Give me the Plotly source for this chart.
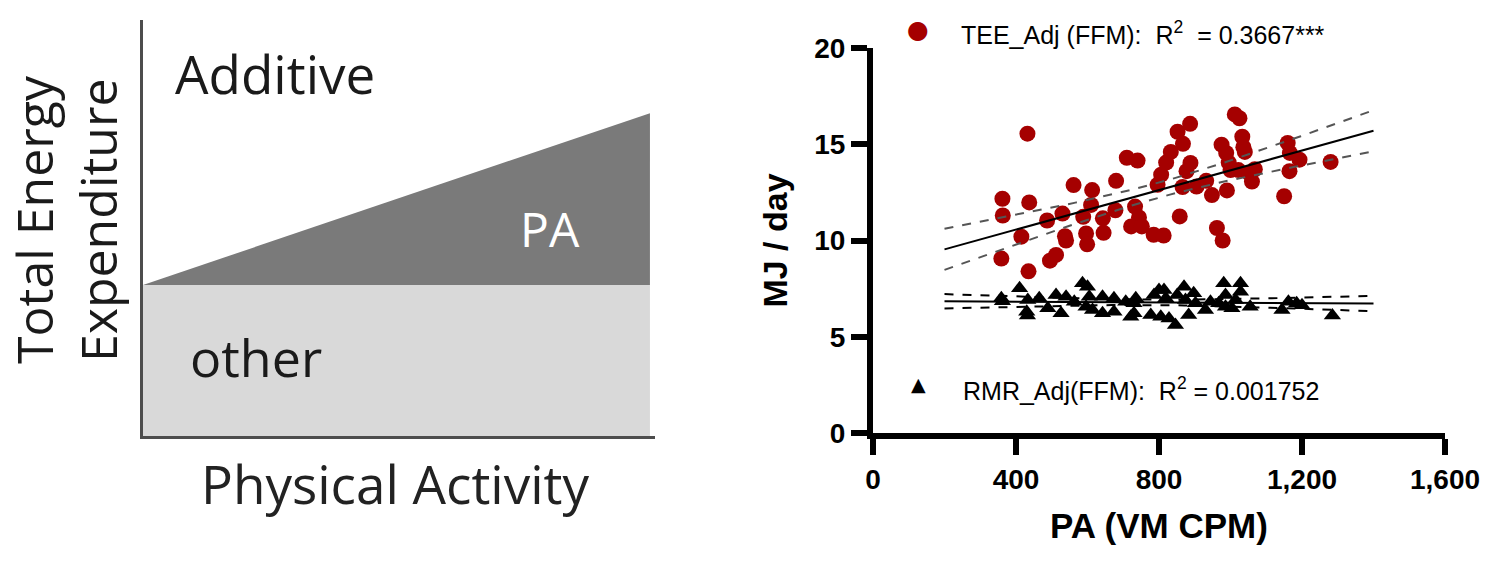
import numpy as np
import plotly.graph_objects as go

W, H = 1490, 584

# left schematic: PA on x, energy (fraction of axis height)
schematic_pa = [0, 1]
other_level = [0.363, 0.363]
total_level = [0.363, 0.776]

# right panel
tee_pa = [359, 363, 362, 437, 432, 415, 435, 487, 495, 512,
          530, 537, 540, 561, 588, 596, 599, 613, 610, 643,
          645, 678, 680, 710, 740, 733, 744, 722, 752, 785,
          813, 796, 806, 820, 833, 852, 867, 887, 858, 866,
          877, 888, 905, 932, 948, 962, 978, 990, 975, 988,
          995, 1000, 1012, 1025, 1033, 1036, 1040, 1022, 1052, 1060,
          1068, 1150, 1160, 1166, 1165, 1193, 1280]
tee_mj = [9.06, 11.3, 12.17, 11.98, 15.55, 10.2, 8.4, 11.04, 8.95, 9.25,
          11.4, 10.22, 10.0, 12.88, 11.23, 10.37, 9.8, 12.62, 11.85, 11.15,
          10.4, 11.57, 13.1, 14.3, 14.15, 11.76, 11.2, 10.73, 10.73, 10.3,
          10.26, 12.89, 13.42, 14.05, 14.6, 15.65, 15.02, 16.06, 11.25, 12.78,
          13.6, 14.03, 12.8, 13.1, 12.36, 10.65, 10.0, 12.6, 14.98, 14.55,
          14.05, 13.66, 16.55, 16.35, 15.39, 14.85, 14.6, 13.66, 13.5, 13.06,
          13.7, 12.3, 15.07, 14.55, 13.6, 14.2, 14.08]

rmr_pa = [359, 362, 410, 433, 430, 432, 465, 489, 512, 526,
          540, 563, 586, 600, 605, 596, 614, 642, 642, 674,
          674, 707, 721, 730, 735, 730, 786, 800, 814, 819,
          777, 805, 828, 846, 870, 851, 874, 897, 883, 902,
          930, 944, 981, 986, 967, 986, 1028, 1028, 1014, 1004,
          1055, 1162, 1185, 1144, 1200, 1285]
rmr_mj = [7.0, 6.85, 7.52, 6.91, 6.3, 6.1, 7.0, 6.48, 7.17, 6.22,
          7.08, 6.82, 7.78, 7.6, 7.08, 6.56, 6.39, 7.08, 6.22, 7.0,
          6.3, 6.82, 6.04, 6.74, 7.0, 6.22, 7.17, 7.43, 7.43, 7.0,
          6.13, 6.04, 5.95, 5.61, 7.6, 7.17, 6.91, 7.26, 6.13, 6.74,
          6.39, 6.82, 7.78, 7.17, 6.74, 6.56, 7.78, 7.34, 6.91, 6.48,
          6.56, 6.82, 6.74, 6.39, 6.64, 6.1]

x_ticks = [0, 400, 800, 1200, 1600]
y_ticks = [0, 5, 10, 15, 20]
fit_span = [200, 1400]
t_crit = 1.99

RED = "#a50000"
BOLD = dict(family="Liberation Sans, Arial", color="black", weight="bold")
CAL = "Open Sans, Noto Sans"


def fx(p):
    return p / W


def fy(p):
    return 1 - p / H


def fit_with_band(x, y):
    # straight line fit plus 95% confidence band of the mean
    x = np.asarray(x, float)
    y = np.asarray(y, float)
    b, a = np.polyfit(x, y, 1)
    res = y - (a + b * x)
    n = len(x)
    s = np.sqrt((res ** 2).sum() / (n - 2))
    sxx = ((x - x.mean()) ** 2).sum()
    xs = np.linspace(fit_span[0], fit_span[1], 60)
    yh = a + b * xs
    half = t_crit * s * np.sqrt(1 / n + (xs - x.mean()) ** 2 / sxx)
    return xs, yh, yh - half, yh + half


fig = go.Figure()

# ---- left schematic
fig.add_trace(go.Scatter(x=schematic_pa, y=other_level, mode="lines", fill="tozeroy",
                         fillcolor="#d9d9d9", line=dict(width=0), xaxis="x2", yaxis="y2",
                         hoverinfo="skip"))
fig.add_trace(go.Scatter(x=schematic_pa, y=total_level, mode="lines", fill="tonexty",
                         fillcolor="#7a7a7a", line=dict(width=0), xaxis="x2", yaxis="y2",
                         hoverinfo="skip"))

# ---- right scatter
fig.add_trace(go.Scatter(x=tee_pa, y=tee_mj, mode="markers",
                         marker=dict(symbol="circle", size=16, color=RED), cliponaxis=False))
fig.add_trace(go.Scatter(x=rmr_pa, y=rmr_mj, mode="markers",
                         marker=dict(symbol="triangle-up", size=15, color="black"), cliponaxis=False))

for xs_, ys_, band_col in [(tee_pa, tee_mj, "#555555"), (rmr_pa, rmr_mj, "black")]:
    xs, yh, lo, hi = fit_with_band(xs_, ys_)
    fig.add_trace(go.Scatter(x=xs, y=yh, mode="lines", line=dict(color="black", width=2)))
    for band in (lo, hi):
        fig.add_trace(go.Scatter(x=xs, y=band, mode="lines",
                                 line=dict(color=band_col, width=2, dash="dash")))

axis_common = dict(showgrid=False, zeroline=False, showline=True, linecolor="black",
                   linewidth=6, ticks="outside", ticklen=16, tickwidth=6, tickcolor="black",
                   tickfont=dict(size=28, **BOLD), automargin=False)

fig.update_layout(
    width=W, height=H,
    margin=dict(l=0, r=0, t=0, b=0),
    paper_bgcolor="white", plot_bgcolor="white",
    showlegend=False,
    xaxis=dict(domain=[fx(873), fx(1445)], range=[0, 1600], tickvals=x_ticks,
               tickformat=",", anchor="y",
               title=dict(text="PA (VM CPM)", font=dict(size=35, **BOLD), standoff=22),
               **axis_common),
    yaxis=dict(domain=[fy(433), fy(48)], range=[0, 20], tickvals=y_ticks, anchor="x",
               title=dict(text="MJ / day", font=dict(size=34, **BOLD), standoff=18),
               **axis_common),
    xaxis2=dict(domain=[fx(143), fx(655)], range=[0, 1.01], anchor="y2", showgrid=False,
                zeroline=False, showticklabels=False, showline=True, linecolor="#4d4d4d",
                linewidth=2.5, automargin=False),
    yaxis2=dict(domain=[fy(436), fy(20)], range=[0, 1], anchor="x2", showgrid=False,
                zeroline=False, showticklabels=False, showline=True, linecolor="#4d4d4d",
                linewidth=2.5, automargin=False),
)

ann = []


def label(text, x, y, size, color="#1a1a1a", family=CAL, xanchor="center", angle=0, **kw):
    ann.append(dict(text=text, x=fx(x), y=fy(y), xref="paper", yref="paper",
                    showarrow=False, xanchor=xanchor, yanchor="middle", textangle=angle,
                    font=dict(size=size, color=color, family=family, **kw)))


label("Additive", 173, 74, 53, xanchor="left")
label("PA", 550, 228, 48, color="white")
label("other", 256, 357, 52)
label("Physical Activity", 395, 483, 53, color="#222222")
label("Total Energy", 34, 220, 50, angle=-90)
label("Expenditure", 98, 220, 50, angle=-90)

label("\u25CF", 918, 30, 25, color=RED, family="DejaVu Sans")
label("TEE_Adj (FFM):\u00a0\u00a0R<sup>2</sup> \u00a0= 0.3667***", 959, 33, 25, color="black",
      family="Liberation Sans, Arial", xanchor="left")
label("\u25B2", 918, 384, 19, color="black", family="DejaVu Sans")
label("RMR_Adj(FFM):\u00a0\u00a0R<sup>2</sup> = 0.001752", 961, 389, 25, color="black",
      family="Liberation Sans, Arial", xanchor="left")

fig.update_layout(annotations=ann)

# drop the default 8px page margin so the figure sits at the window corner
fig.write_html("out.html", config={"displayModeBar": False},
               post_script="document.body.style.margin='0';document.body.style.overflow='hidden';")
